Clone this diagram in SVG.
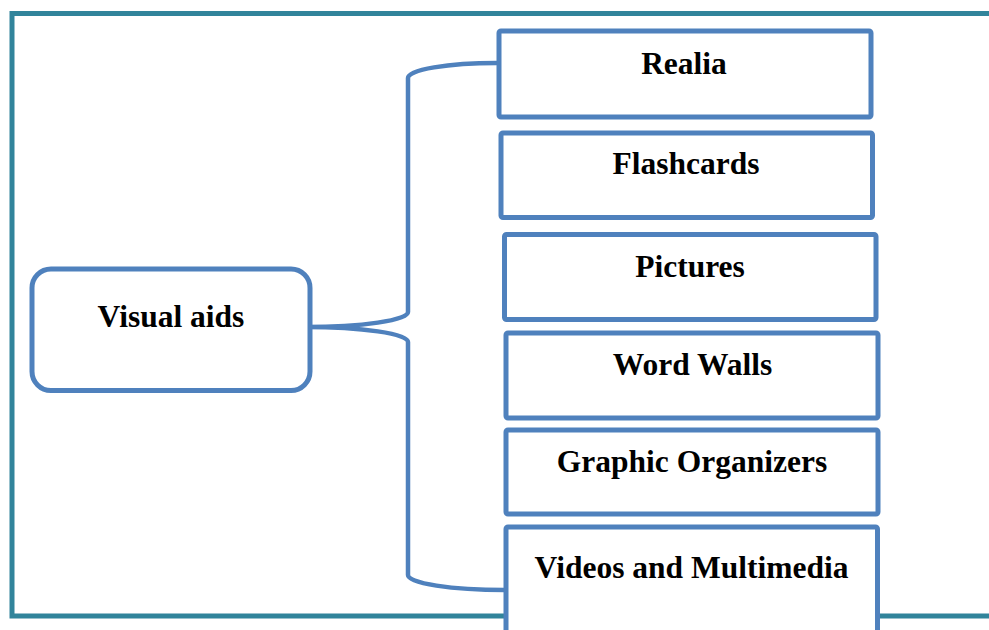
<svg xmlns="http://www.w3.org/2000/svg" width="989" height="630" viewBox="0 0 989 630">
<style>
.frame{fill:none;stroke:#31849B;stroke-width:5;stroke-linecap:square}
.box{fill:#fff;stroke:#4F81BD;stroke-width:5;stroke-linejoin:round}
.conn{fill:none;stroke:#4F81BD;stroke-width:4.5;stroke-linecap:round}
.lbl{font-family:"Liberation Serif","Times New Roman",serif;font-weight:bold;font-size:31.5px;fill:#000;text-anchor:middle}
</style>
<rect width="989" height="630" fill="#fff"/>
<g id="frame">
<path class="frame" d="M992,13.5 H12 V616 H992"/>
</g>
<g id="connectors">
<path class="conn" d="M497,63 A89,15 0 0 0 408,78 L408,312 A103,15 0 0 1 305,327 A103,15 0 0 1 408,342 L408,575 A97,15 0 0 0 505,590"/>
</g>
<g id="visual-aids">
<rect class="box" x="32" y="269" width="278" height="121.5" rx="19"/>
<text class="lbl" x="171" y="327">Visual aids</text>
</g>
<g id="realia">
<rect class="box" x="499" y="31" width="372" height="86" rx="2"/>
<text class="lbl" x="684" y="73.5">Realia</text>
</g>
<g id="flashcards">
<rect class="box" x="501" y="133" width="371.5" height="84.5" rx="2"/>
<text class="lbl" x="686" y="174">Flashcards</text>
</g>
<g id="pictures">
<rect class="box" x="504.5" y="234.5" width="371.5" height="85" rx="2"/>
<text class="lbl" x="690" y="276.5">Pictures</text>
</g>
<g id="word-walls">
<rect class="box" x="506" y="333" width="372" height="85" rx="2"/>
<text class="lbl" x="692.5" y="374.5">Word Walls</text>
</g>
<g id="graphic-organizers">
<rect class="box" x="506" y="430" width="372" height="84" rx="2"/>
<text class="lbl" x="692" y="471.5">Graphic Organizers</text>
</g>
<g id="videos-multimedia">
<rect class="box" x="506" y="527" width="371.5" height="120" rx="2"/>
<text class="lbl" x="691.5" y="577.5">Videos and Multimedia</text>
</g>
</svg>
